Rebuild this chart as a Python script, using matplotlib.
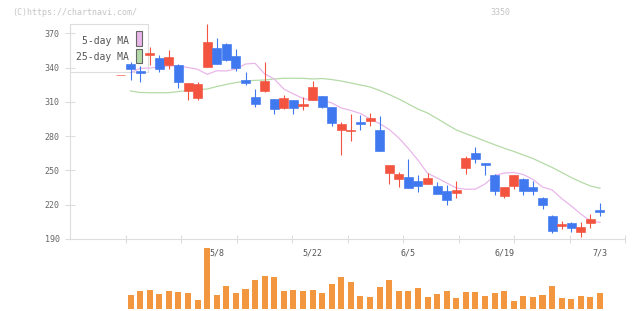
import numpy as np
import matplotlib
matplotlib.use("Agg")
import matplotlib.pyplot as plt
from matplotlib.patches import Rectangle
from matplotlib.transforms import blended_transform_factory

# ---------------- data ----------------
opens = [333.5, 343, 337, 350.7, 348.4, 342.5, 342.2, 319.7, 313.1, 340.7,
         357.1, 360.6, 350.1, 329, 314.2, 319.7, 312.5, 304.9, 311.6, 306.6,
         311.6, 315.1, 305.5, 285.6, 284.5, 292.6, 293.5, 285.4, 248, 242.5,
         244.2, 240.7, 238.4, 236.4, 232, 230.5, 252.4, 265.2, 256.8, 246,
         227.9, 236.4, 242.5, 235.5, 226.1, 210.1, 201.4, 204, 196.4, 204, 215.4]
highs = [333.5, 345, 341.5, 358, 351, 355.4, 343.4, 326.5, 327.4, 378,
         366, 361.7, 356.5, 336, 321.2, 345.1, 312.5, 316, 311.6, 314.2,
         328.2, 315.1, 305.5, 292.4, 299.4, 298.5, 300.2, 297.6, 254.7, 248.9,
         260, 246, 247.7, 239.9, 237.2, 240.7, 262.6, 270.5, 256.8, 247.1,
         235.5, 246, 243.4, 240.7, 227, 211, 206, 204.9, 204.9, 211.9, 221.5]
lows = [333.5, 329, 327.5, 342, 336.4, 339, 322.4, 311.6, 311.6, 340.7,
        343.4, 345.7, 337, 325, 305.2, 318.9, 299.6, 303.7, 299.6, 302.9,
        311.6, 304.9, 289.1, 263.8, 276, 285.6, 289.1, 267.3, 238.1, 235.8,
        234.9, 231.4, 238.4, 229.1, 220, 226, 247.1, 256.5, 246, 228.5,
        226.1, 233.7, 228.8, 228.8, 216.5, 195.5, 198.7, 196.4, 191.7, 199.6, 210.1]
closes = [333.5, 339, 335.5, 352.5, 339, 349.2, 327.6, 326.5, 325.3, 362.4,
          343.4, 346.9, 339.9, 326.7, 308.4, 328.2, 304, 313.4, 304.9, 308.4,
          323, 305.8, 291.8, 290.6, 285.6, 290.9, 295.9, 267.3, 254.7, 246.9,
          234.9, 236.6, 243.4, 229.1, 224.4, 232.9, 260.9, 260, 255, 232,
          235.5, 246, 232.3, 232.3, 220, 197.3, 203.4, 199.9, 200.5, 207.5, 213.6]
volumes = [0, 14, 18, 19, 15, 18, 17, 16, 9, 61.3,
           14, 23, 16, 20, 29, 33, 32, 18, 19, 18,
           19, 16, 25, 32, 27, 13, 12, 22, 29, 18,
           18, 21, 12, 15, 18, 11, 17, 17, 13, 16,
           18, 8, 13, 12, 14, 23, 11, 10, 13, 12, 16]
ma5 = [np.nan, 335.5, 339.3, 339.6, 340.5, 341.4, 341.4, 340, 338.5, 334.1,
       337.2, 337, 338.7, 343.1, 343.7, 334.4, 330, 321.2, 316.9, 313,
       311.6, 311.6, 309, 304.6, 302.4, 299.8, 295, 291, 285.8, 278.4,
       269.2, 259, 247.5, 243.4, 239, 234.6, 233.5, 233.7, 238.1, 245.6,
       247.7, 248.2, 246.4, 242.1, 235.5, 232.9, 225.4, 218.9, 211.9, 205.7, 204.6]
ma25 = [np.nan, 319.5, 318.2, 318, 318, 318, 319, 319.9, 320.8, 321.2,
        323.4, 325.2, 326.9, 328.2, 328.8, 329.1, 330, 330.6, 330.6, 330.6,
        330, 330.4, 329.5, 328.2, 326.5, 324.7, 323, 319.9, 316.4, 312.5,
        308.1, 303.7, 300.2, 295.4, 290.3, 285.4, 282.1, 279, 275.7, 272.5,
        269.4, 266.6, 263.5, 260.4, 256.5, 252.6, 248.2, 243.8, 239.9, 236.4, 234.4]
date_labels = ['5/8', '5/22', '6/5', '6/19', '7/3']
date_label_idx = [10, 20, 30, 40, 50]
price_ticks = [190, 220, 250, 280, 310, 340, 370]

# ---------------- style ----------------
UP = '#f25440'
DOWN = '#4078ef'
VOL = '#f29640'
MA5_C = '#e9b6ea'
MA25_C = '#b4dba6'
GRID = '#dddddd'
MONO = 'DejaVu Sans Mono'

W, H = 640, 311
fig = plt.figure(figsize=(W / 100, H / 100), dpi=100)
fig.patch.set_facecolor('white')

def fx(px):
    return px / W

def fy(py):
    return 1 - py / H

x = np.arange(len(closes))
xlim = (-5.32, 52.61)

# legend box (drawn beneath everything else)
leg = Rectangle((fx(70), fy(72)), fx(148) - fx(70), fy(24) - fy(72),
                transform=fig.transFigure, facecolor='white', edgecolor=GRID,
                linewidth=0.8, zorder=-5)
fig.patches.append(leg)

# price axes (pixels: x 70..625, y 24..239)
ax = fig.add_axes([fx(70), fy(239), fx(625) - fx(70), fy(24) - fy(239)])
ax.set_xlim(*xlim)
ax.set_ylim(190, 378.1)
ax.patch.set_visible(False)
for s in ['top', 'right']:
    ax.spines[s].set_visible(False)
for s in ['left', 'bottom']:
    ax.spines[s].set_color(GRID)
    ax.spines[s].set_linewidth(0.8)

ax.set_yticks(price_ticks)
ax.set_yticklabels([str(t) for t in price_ticks], fontfamily=MONO)
ax.tick_params(axis='y', direction='inout', length=6.5, width=0.8, color=GRID,
               labelsize=6, labelcolor='#666666', pad=4.3)
ax.set_xticks(np.linspace(xlim[0], xlim[1], 11)[1:])
ax.set_xticklabels([])
ax.tick_params(axis='x', direction='inout', length=6, width=0.8, color=GRID)

o = np.array(opens); c = np.array(closes)
hi = np.array(highs); lo = np.array(lows)
cols = [UP if cc >= oo else DOWN for oo, cc in zip(o, c)]

ax.vlines(x, lo, hi, colors=cols, linewidth=0.8, zorder=3)
ax.bar(x, c - o, bottom=o, width=0.94, color=cols, edgecolor=cols,
       linewidth=0.45, zorder=4)
ax.plot(x, ma25, color=MA25_C, linewidth=0.9, zorder=2)
ax.plot(x, ma5, color=MA5_C, linewidth=0.9, zorder=2)

fig.text(fx(129), fy(40.5), '5-day MA', ha='right', va='center',
         fontfamily=MONO, fontsize=7, color='#555555')
fig.text(fx(129), fy(56.5), '25-day MA', ha='right', va='center',
         fontfamily=MONO, fontsize=7, color='#555555')
for (y0, y1), fc in [((31, 46), MA5_C), ((48.5, 63), MA25_C)]:
    r = Rectangle((fx(136), fy(y1)), fx(142) - fx(136), fy(y0) - fy(y1),
                  transform=fig.transFigure, facecolor=fc, edgecolor='#666666',
                  linewidth=0.8, zorder=5)
    fig.patches.append(r)

# volume axes (pixels: y 245..309)
axv = fig.add_axes([fx(70), fy(309), fx(625) - fx(70), fy(245) - fy(309)])
axv.set_xlim(*xlim)
axv.set_ylim(0, 64)
axv.axis('off')
axv.bar(x, volumes, width=0.63, color=VOL, linewidth=0, zorder=2)
tr = blended_transform_factory(axv.transData, axv.transAxes)
for lab, idx in zip(date_labels, date_label_idx):
    axv.text(idx, 0.88, lab, transform=tr, ha='center', va='center',
             fontfamily=MONO, fontsize=6, color='#555555', zorder=5)

# header texts
fig.text(fx(12), fy(12.5), '(C)https://chartnavi.com/', ha='left', va='center',
         fontfamily=MONO, fontsize=6, color='#c4c4c4')
fig.text(fx(510), fy(12.5), '3350', ha='right', va='center',
         fontfamily=MONO, fontsize=6, color='#c4c4c4')

fig.savefig('out.png', dpi=100, facecolor='white')
